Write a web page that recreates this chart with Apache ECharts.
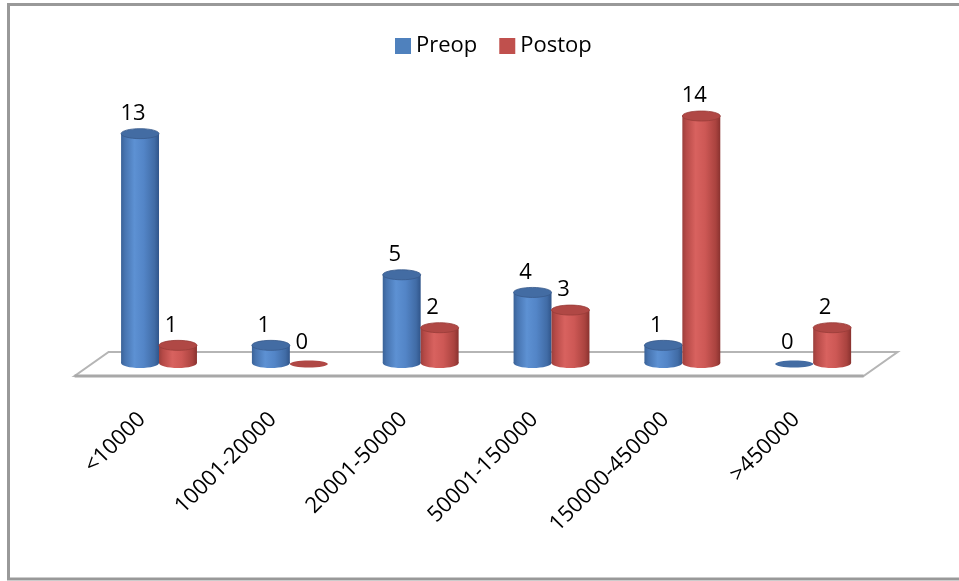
<!DOCTYPE html>
<html>
<head>
<meta charset="utf-8">
<title>Preop / Postop</title>
<script src="https://cdn.jsdelivr.net/npm/echarts@6/dist/echarts.min.js"></script>
<style>
  html, body { margin: 0; padding: 0; background: #fff; }
  #chart { width: 959px; height: 581px; }
</style>
</head>
<body>
<div id="chart"></div>
<script>
// Range buckets and patient counts before / after the operation
const categories = ['<10000', '10001-20000', '20001-50000', '50001-150000', '150000-450000', '>450000'];
const preop = [13, 1, 5, 4, 1, 0];
const postop = [1, 0, 2, 3, 14, 2];

const FONT = '"Open Sans", "Liberation Sans", sans-serif';

// Shading for each cylinder family: body gradient (left → right) and cap colour
const palettes = {
  blue: {
    base: '#4F81BD',
    body: [
      [0, '#3a6297'], [0.1, '#4774b0'], [0.35, '#5d91d3'],
      [0.6, '#5385c7'], [0.88, '#416ca6'], [1, '#30558a']
    ],
    cap: '#436ca3',
    capEdge: '#385b8c'
  },
  red: {
    base: '#C0504D',
    body: [
      [0, '#9b3f3c'], [0.1, '#b64a47'], [0.35, '#d8625f'],
      [0.6, '#cd5855'], [0.88, '#aa433f'], [1, '#89322f']
    ],
    cap: '#b04845',
    capEdge: '#983c39'
  }
};

function gradient(stops) {
  return new echarts.graphic.LinearGradient(0, 0, 1, 0,
    stops.map(s => ({ offset: s[0], color: s[1] })));
}

// One cylinder per data item; side = -1 for the left bar of a pair, +1 for the right
function cylinderRenderer(pal, side) {
  return function (params, api) {
    const cat = api.value(0);
    const val = api.value(1);
    const top = api.coord([cat, val]);
    const base = api.coord([cat, 0]);
    const band = api.size([1, 0])[0];
    const w = band * 0.29;
    const cx = top[0] + side * w / 2;
    const ry = 5;
    const children = [];
    if (val > 0) {
      children.push({
        type: 'ellipse',
        shape: { cx: cx, cy: base[1], rx: w / 2, ry: ry },
        style: { fill: gradient(pal.body) }
      });
      children.push({
        type: 'rect',
        shape: { x: cx - w / 2, y: top[1], width: w, height: base[1] - top[1] },
        style: { fill: gradient(pal.body) }
      });
      children.push({
        type: 'ellipse',
        shape: { cx: cx, cy: top[1], rx: w / 2, ry: ry },
        style: { fill: pal.cap, stroke: pal.capEdge, lineWidth: 0.8 }
      });
    } else {
      children.push({
        type: 'ellipse',
        shape: { cx: cx, cy: base[1] + 1, rx: w / 2, ry: 3.5 },
        style: { fill: pal.cap }
      });
    }
    children.push({
      type: 'text',
      style: {
        text: String(val),
        x: cx - 7,
        y: top[1] - 20,
        align: 'center',
        verticalAlign: 'middle',
        fill: '#000',
        font: '22px ' + FONT
      }
    });
    return { type: 'group', children: children };
  };
}

// Floor plane of the 3D plot, taken from the grid rectangle
function floorRenderer(params, api) {
  const cs = params.coordSys;
  const y = cs.y + cs.height;
  const x0 = cs.x - 2, x1 = cs.x + cs.width + 2;
  const dx = 17, back = 11, front = 13;
  return {
    type: 'group',
    children: [
      {
        type: 'polygon',
        shape: { points: [[x0 + dx, y - back], [x1 + dx, y - back], [x1 - dx, y + front], [x0 - dx, y + front]] },
        style: { fill: '#ffffff', stroke: '#b5b5b5', lineWidth: 2 }
      },
      {
        type: 'line',
        shape: { x1: x0 - dx, y1: y + front, x2: x1 - dx, y2: y + front },
        style: { stroke: '#a8a8a8', lineWidth: 3 }
      }
    ]
  };
}

const chart = echarts.init(document.getElementById('chart'));
chart.setOption({
  backgroundColor: '#ffffff',
  animation: false,
  graphic: [{
    type: 'rect',
    shape: { x: 8.5, y: 4.5, width: 960, height: 574.5 },
    style: { fill: 'none', stroke: '#999999', lineWidth: 3 },
    silent: true
  }],
  legend: {
    left: 390,
    top: 30,
    itemWidth: 16,
    itemHeight: 16,
    itemGap: 22,
    icon: 'rect',
    textStyle: { fontFamily: FONT, fontSize: 22, color: '#000' },
    data: ['Preop', 'Postop']
  },
  grid: { left: 93.6, width: 785, top: 116, bottom: 218 },
  xAxis: {
    type: 'category',
    data: categories,
    axisLine: { show: false },
    axisTick: { show: false },
    axisLabel: {
      interval: 0,
      rotate: 45,
      margin: 36,
      padding: [0, 24, 0, 0],
      color: '#000',
      fontFamily: FONT,
      fontSize: 22
    }
  },
  yAxis: {
    type: 'value',
    min: 0,
    max: 14,
    show: false,
    splitLine: { show: false }
  },
  series: [
    {
      type: 'custom',
      name: 'floor',
      z: 1,
      silent: true,
      renderItem: floorRenderer,
      data: [[0, 0]],
      encode: { x: 0, y: 1 }
    },
    {
      type: 'custom',
      name: 'Preop',
      z: 3,
      itemStyle: { color: palettes.blue.base },
      renderItem: cylinderRenderer(palettes.blue, -1),
      data: preop.map((v, i) => [i, v]),
      encode: { x: 0, y: 1 }
    },
    {
      type: 'custom',
      name: 'Postop',
      z: 3,
      itemStyle: { color: palettes.red.base },
      renderItem: cylinderRenderer(palettes.red, 1),
      data: postop.map((v, i) => [i, v]),
      encode: { x: 0, y: 1 }
    }
  ]
});
</script>
</body>
</html>
